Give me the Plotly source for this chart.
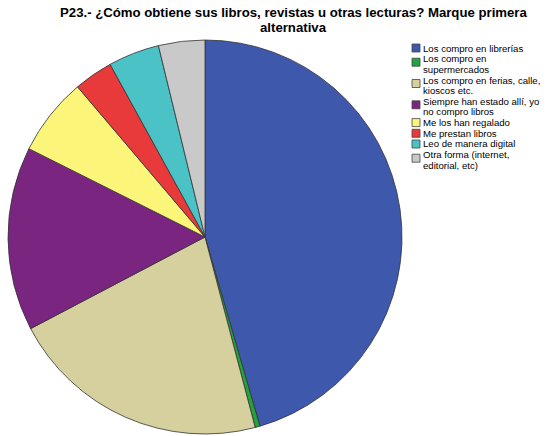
import plotly.graph_objects as go

labels = [
    "Los compro en librerías",
    "Los compro en<br>supermercados",
    "Los compro en ferias, calle,<br>kioscos etc.",
    "Siempre han estado allí, yo<br>no compro libros",
    "Me los han regalado",
    "Me prestan libros",
    "Leo de manera digital",
    "Otra forma (internet,<br>editorial, etc)",
]
values = [45.5, 0.4, 21.4, 15.1, 6.4, 3.2, 4.2, 3.8]
colors = ["#3e58ac", "#22a33c", "#d5d09e", "#7a2580", "#fbf67a", "#e8393b", "#4bc3c6", "#c9c9c9"]
title_lines = [
    "P23.- ¿Cómo obtiene sus libros, revistas u otras lecturas? Marque primera",
    "alternativa",
]

W, H = 556, 436

fig = go.Figure(go.Pie(
    labels=labels,
    values=values,
    sort=False,
    direction="clockwise",
    rotation=0,
    textinfo="none",
    hoverinfo="label+percent",
    showlegend=False,
    marker=dict(colors=colors, line=dict(color="#333333", width=0.8)),
    domain=dict(x=[5/W, 405/W], y=[2/H, 396/H]),
))

# custom compact legend built from labels/colors
shapes = []
annotations = []
y = 48.0
LINE = 10.6
GAP = 10.7
for lab, col in zip(labels, colors):
    lines = lab.split("<br>")
    sq_c = y if len(lines) == 1 else y + 3.5
    shapes.append(dict(
        type="rect", xref="paper", yref="paper",
        x0=412/W, x1=420/W, y0=1-(sq_c+4)/H, y1=1-(sq_c-4)/H,
        fillcolor=col, line=dict(color="#444444", width=0.8),
    ))
    for k, ln in enumerate(lines):
        annotations.append(dict(
            text=ln, xref="paper", yref="paper",
            x=422/W, y=1-(y + LINE*k)/H, xanchor="left", yanchor="middle",
            showarrow=False, borderpad=0,
            font=dict(family="Liberation Sans, Arial", size=9.6, color="black"),
        ))
    y += LINE*(len(lines)-1) + GAP

for k, ln in enumerate(title_lines):
    annotations.append(dict(
        text="<b>" + ln + "</b>", xref="paper", yref="paper",
        x=293/W, y=1-(13 + 14.5*k)/H,
        xanchor="center", yanchor="middle", showarrow=False, borderpad=0,
        font=dict(family="Liberation Sans, Arial", size=13.2, color="black"),
    ))

fig.update_layout(
    width=W, height=H,
    margin=dict(l=0, r=0, t=0, b=0),
    paper_bgcolor="white",
    plot_bgcolor="white",
    shapes=shapes,
    annotations=annotations,
)

fig.write_html(
    "out.html",
    config={"displayModeBar": False},
    post_script="document.body.style.margin='0';document.body.style.overflow='hidden';",
)
